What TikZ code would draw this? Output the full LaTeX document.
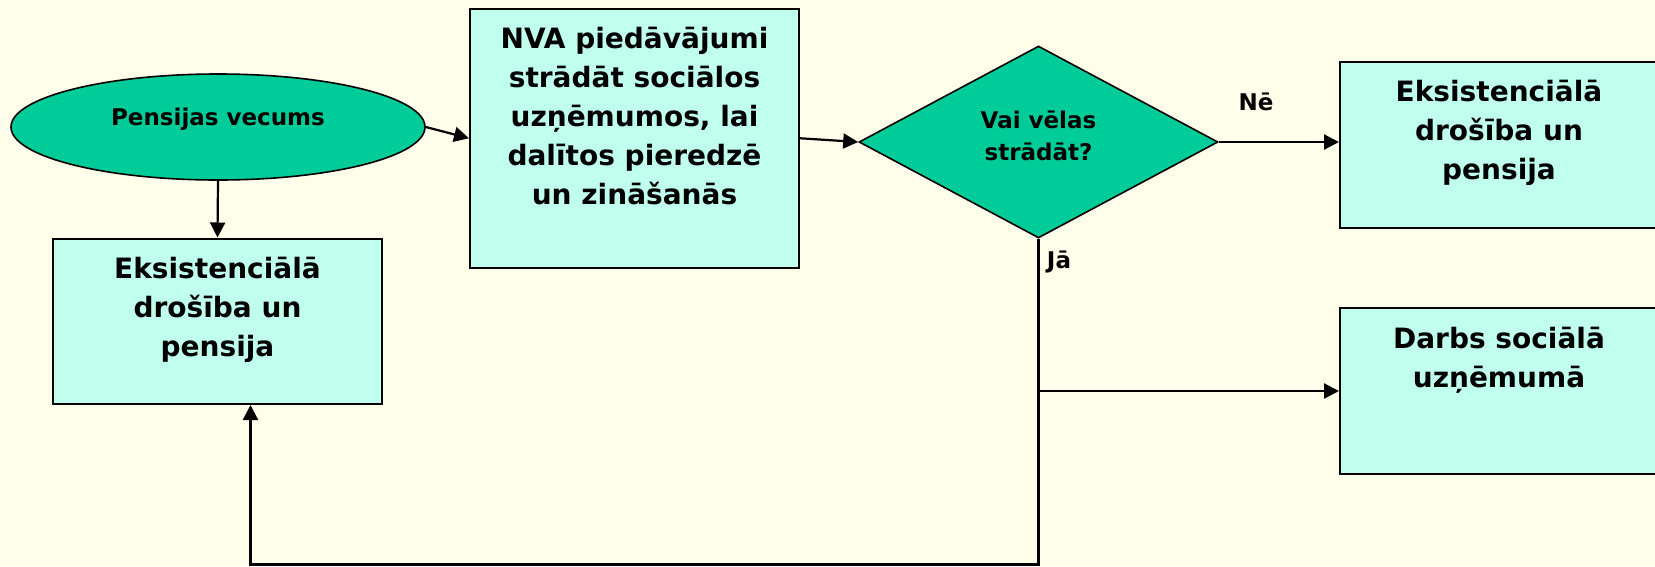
\documentclass[tikz,border=0pt]{standalone}
\usepackage{fontspec}
\setmainfont{DejaVu Sans}
\usepackage{xcolor}
\usetikzlibrary{shapes.geometric}
\usetikzlibrary{arrows.meta}
\definecolor{bgcream}{RGB}{255,254,234}
\definecolor{tealfill}{RGB}{0,204,153}
\definecolor{mintfill}{RGB}{192,255,238}
\newcommand{\boxlines}[3]{\parbox[c][#2][t]{#1}{\centering\rule{0pt}{40pt}#3}}
\tikzset{
  procbox/.style={draw, fill=mintfill, line width=2pt, inner sep=0pt,
    font=\fontsize{28pt}{39pt}\selectfont\bfseries},
  startoval/.style={ellipse, draw, fill=tealfill, line width=1.6pt, inner sep=0pt,
    minimum width=414pt, minimum height=106pt, text height=12pt, text depth=16pt,
    font=\fontsize{23pt}{32pt}\selectfont\bfseries},
  decision/.style={diamond, draw, fill=tealfill, line width=1.6pt, inner sep=0pt,
    minimum width=359pt, minimum height=192pt, align=center,
    font=\fontsize{23pt}{32pt}\selectfont\bfseries},
  lbl/.style={inner sep=0pt, font=\fontsize{23pt}{32pt}\selectfont\bfseries},
  arr/.style={line width=2.2pt, -{Triangle[length=15pt,width=15pt]}}
}

\begin{document}
\begin{tikzpicture}[x=1pt, y=-1pt]
  \fill[bgcream] (0,0) rectangle (1655,566);
  \useasboundingbox (0,0) rectangle (1655,566);
  \node[startoval] (vecums) at (218,127) {Pensijas vecums};
  \node[procbox] (eks1) at (217.5,321.25) {\boxlines{329pt}{165.5pt}{Eksistenciālā\\drošība un\\pensija}};
  \node[procbox] (nva) at (634.5,138.25) {\boxlines{329pt}{259.5pt}{NVA piedāvājumi\\strādāt sociālos\\uzņēmumos, lai\\dalītos pieredzē\\un zināšanās}};
  \node[decision] (lemums) at (1038.5,142) {Vai vēlas\\strādāt?\rule[-12pt]{0pt}{12pt}};
  \node[procbox] (eks2) at (1499,144.7) {\boxlines{318pt}{166pt}{Eksistenciālā\\drošība un\\pensija}};
  \node[procbox] (darbs) at (1499,391) {\boxlines{318pt}{166pt}{Darbs sociālā\\uzņēmumā}};
  \node[lbl] (ne) at (1256,102) {Nē};
  \node[lbl] (ja) at (1059,262) {Jā};
  \coordinate (apaksa) at (1040,564.5);

  \draw[arr] (vecums.east) -- (nva.west);
  \draw[arr] (vecums.south) -- (eks1.north);
  \draw[arr] (nva.east) -- (lemums.west);
  \draw[arr] (lemums.east) -- (lemums.east -| eks2.west);
  \draw[arr] (lemums.south) |- (darbs.west);
  \draw[arr] (lemums.south) -- (lemums.south |- apaksa) -| ([xshift=33pt]eks1.south);
\end{tikzpicture}
\end{document}
